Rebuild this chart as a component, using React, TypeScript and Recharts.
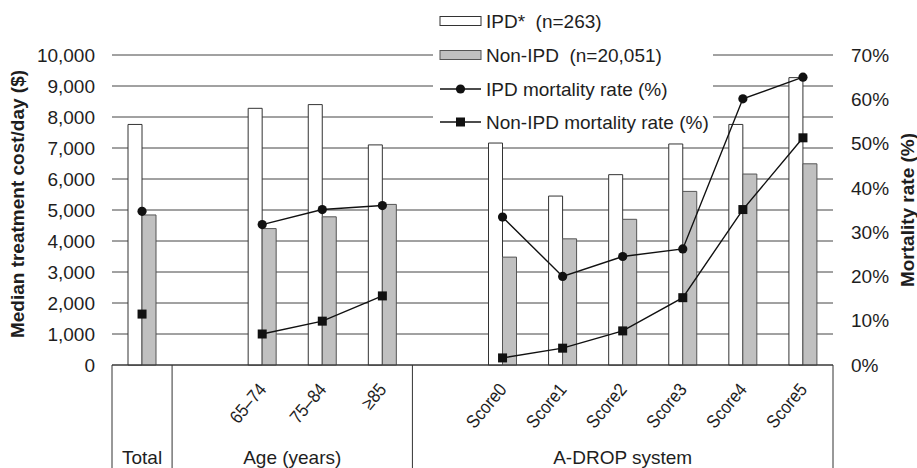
import React from 'react';
import { ComposedChart, Bar, Line, XAxis, YAxis, CartesianGrid, Legend } from 'recharts';

// ---------- data ----------
const categories = ['Total', 'gap-age', '65–74', '75–84', '≥85', 'gap-adrop', 'Score0', 'Score1', 'Score2', 'Score3', 'Score4', 'Score5'];
const tickLabels = ['', '', '65–74', '75–84', '≥85', '', 'Score0', 'Score1', 'Score2', 'Score3', 'Score4', 'Score5'];
const ipdCost = [7760, null, 8280, 8400, 7100, null, 7160, 5450, 6140, 7130, 7760, 9270];
const nonIpdCost = [4840, null, 4400, 4780, 5180, null, 3480, 4070, 4700, 5600, 6160, 6490];
const ipdMortality = [34.7, null, 31.7, 35.1, 36.0, null, 33.4, 20.0, 24.5, 26.2, 60.1, 65.0];
const nonIpdMortality = [11.5, null, 7.0, 9.9, 15.6, null, 1.6, 3.8, 7.7, 15.2, 35.1, 51.3];
const costTicks = [0, 1000, 2000, 3000, 4000, 5000, 6000, 7000, 8000, 9000, 10000];
const rateTicks = [0, 10, 20, 30, 40, 50, 60, 70];
const groupLabels = ['Total', 'Age (years)', 'A-DROP system'];
const groupSpans = [1, 4, 7];
const seriesNames = ['IPD*  (n=263)', 'Non-IPD  (n=20,051)', 'IPD mortality rate (%)', 'Non-IPD mortality rate (%)'];

const data = categories.map((c, i) => ({
  category: c,
  ipdCost: ipdCost[i],
  nonIpdCost: nonIpdCost[i],
  ipdMortality: ipdMortality[i],
  nonIpdMortality: nonIpdMortality[i],
}));

// ---------- layout ----------
const W = 917;
const H = 468;
const LEFT_W = 112;
const RIGHT_W = 84;
const TOP = 55;
const XAXIS_H = 103;
const PLOT_W = W - LEFT_W - RIGHT_W;
const BAND = PLOT_W / categories.length;
const FONT = '"Liberation Sans", Arial, Helvetica, sans-serif';
const TEXT = '#1e1e1e';
const FS = 19;

const groupStarts: number[] = [];
groupSpans.reduce((acc, s) => {
  groupStarts.push(acc);
  return acc + s;
}, 0);

const CategoryTick = (props: any) => {
  const { x, y, payload } = props;
  const i: number = props.index ?? categories.indexOf(payload.value);
  const half = BAND / 2;
  const els: any[] = [];
  const label = tickLabels[i];
  if (label) {
    const ax = x + 5;
    const ay = y + 25;
    els.push(
      <g key="lbl" transform={`translate(${ax}, ${ay}) rotate(-50)`}>
        <g transform="scale(0.88, 1)">
          <text x={0} y={0} textAnchor="end" fontSize={18.5} fill={TEXT} fontFamily={FONT}>{label}</text>
        </g>
      </g>
    );
  }
  groupStarts.forEach((s, g) => {
    if (s === i) {
      els.push(<line key={`sep${g}`} x1={x - half} x2={x - half} y1={y} y2={H} stroke="#333" strokeWidth={1} />);
      els.push(
        <text key={`grp${g}`} x={x - half + groupSpans[g] * half} y={y + 99} textAnchor="middle"
          fontSize={FS} fill={TEXT} fontFamily={FONT}>{groupLabels[g]}</text>
      );
    }
  });
  if (i === categories.length - 1) {
    els.push(<line key="sepEnd" x1={x + half} x2={x + half} y1={y} y2={H} stroke="#333" strokeWidth={1} />);
  }
  return <g>{els}</g>;
};

const SquareDot = (props: any) => {
  const { cx, cy } = props;
  if (cx == null || cy == null || isNaN(cx) || isNaN(cy)) return null;
  return <rect x={cx - 4.5} y={cy - 4.5} width={9} height={9} fill="#111" />;
};

const CircleDot = (props: any) => {
  const { cx, cy } = props;
  if (cx == null || cy == null || isNaN(cx) || isNaN(cy)) return null;
  return <circle cx={cx} cy={cy} r={4.6} fill="#111" />;
};

const LeftTitle = (props: any) => {
  const vb = props.viewBox || {};
  const cx = (vb.x ?? 0) + 17;
  const cy = (vb.y ?? TOP) + (vb.height ?? 310) / 2 - 6;
  return (
    <text x={cx} y={cy} textAnchor="middle" dominantBaseline="central" fontSize={FS} fontWeight="bold"
      fill={TEXT} fontFamily={FONT} transform={`rotate(-90, ${cx}, ${cy})`}>
      Median treatment cost/day ($)
    </text>
  );
};

const RightTitle = (props: any) => {
  const vb = props.viewBox || {};
  const cx = (vb.x ?? W - RIGHT_W) + 74;
  const cy = (vb.y ?? TOP) + (vb.height ?? 310) / 2;
  return (
    <text x={cx} y={cy} textAnchor="middle" dominantBaseline="central" fontSize={FS} fontWeight="bold"
      fill={TEXT} fontFamily={FONT} transform={`rotate(-90, ${cx}, ${cy})`}>
      Mortality rate (%)
    </text>
  );
};

const LegendContent = () => {
  const rows = [21, 55, 89, 122];
  return (
    <svg width={282} height={134} style={{ display: 'block', overflow: 'visible' }}>
      <rect x={7} y={rows[0] - 4.5} width={41} height={9} fill="#fff" stroke="#333" />
      <rect x={7} y={rows[1] - 4.5} width={41} height={9} fill="#c0c0c0" stroke="#555" />
      <line x1={7} x2={48} y1={rows[2]} y2={rows[2]} stroke="#111" strokeWidth={1.4} />
      <circle cx={27.5} cy={rows[2]} r={4.6} fill="#111" />
      <line x1={7} x2={48} y1={rows[3]} y2={rows[3]} stroke="#111" strokeWidth={1.4} />
      <rect x={23} y={rows[3] - 4.5} width={9} height={9} fill="#111" />
      {seriesNames.map((n, i) => (
        <text key={n} x={53} y={rows[i] + 6.5} fontSize={FS} fill={TEXT} fontFamily={FONT}
          style={{ whiteSpace: 'pre' }}>{n}</text>
      ))}
    </svg>
  );
};

export default function App() {
  return (
    <div style={{ position: 'absolute', left: 0, top: 0, width: W, height: H, background: '#fff' }}>
      <ComposedChart width={W} height={H} data={data} barGap={0}
        margin={{ top: TOP, right: 0, bottom: 0, left: 0 }}>
        <CartesianGrid yAxisId="left" vertical={false} stroke="#444" strokeWidth={1} />
        <XAxis dataKey="category" interval={0} height={XAXIS_H} tickSize={0} tickMargin={0}
          tickLine={false} axisLine={{ stroke: '#333' }} tick={<CategoryTick />} />
        <YAxis yAxisId="left" width={LEFT_W} domain={[0, 10000]} ticks={costTicks} axisLine={false}
          tickLine={false} tickSize={0} tickMargin={17}
          tickFormatter={(v: number) => v.toLocaleString('en-US')}
          tick={{ fontSize: FS, fill: TEXT, fontFamily: FONT }}
          label={<LeftTitle />} />
        <YAxis yAxisId="right" orientation="right" width={RIGHT_W} domain={[0, 70]} ticks={rateTicks}
          axisLine={false} tickLine={false} tickSize={0} tickMargin={18}
          tickFormatter={(v: number) => `${v}%`}
          tick={{ fontSize: FS, fill: TEXT, fontFamily: FONT }}
          label={<RightTitle />} />
        <Legend layout="vertical" align="center" verticalAlign="middle" content={<LegendContent />}
          wrapperStyle={{ left: 433, top: 0, width: 280, height: 134, background: '#fff', right: 'auto', bottom: 'auto' }} />
        <Bar yAxisId="left" dataKey="ipdCost" name={seriesNames[0]} barSize={14} fill="#fff" stroke="#333"
          strokeWidth={1} isAnimationActive={false} />
        <Bar yAxisId="left" dataKey="nonIpdCost" name={seriesNames[1]} barSize={14} fill="#c0c0c0" stroke="#555"
          strokeWidth={1} isAnimationActive={false} />
        <Line yAxisId="right" type="linear" dataKey="ipdMortality" name={seriesNames[2]} stroke="#111"
          strokeWidth={1.4} dot={<CircleDot />} activeDot={false} isAnimationActive={false} />
        <Line yAxisId="right" type="linear" dataKey="nonIpdMortality" name={seriesNames[3]} stroke="#111"
          strokeWidth={1.4} dot={<SquareDot />} activeDot={false} isAnimationActive={false} />
      </ComposedChart>
    </div>
  );
}
